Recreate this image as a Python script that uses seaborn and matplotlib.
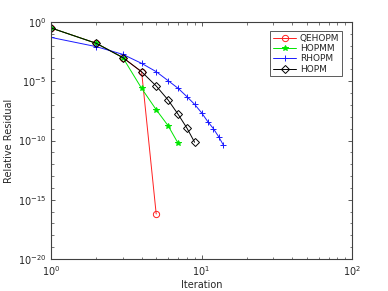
import numpy as np
import pandas as pd
import matplotlib
matplotlib.use("Agg")
from matplotlib import pyplot as plt
from matplotlib.ticker import FixedLocator, NullFormatter, LogFormatterSciNotation
import seaborn as sns

# log10 of relative residual
qehopm_it = [1, 2, 3, 4, 5]
qehopm_log = [-0.5, -1.8, -3.0, -4.2, -16.2]

hopmm_it = [1, 2, 3, 4, 5, 6, 7]
hopmm_log = [-0.5, -1.8, -3.0, -5.6, -7.4, -8.75, -10.25]

rhopm_it = [1, 2, 3, 4, 5, 6, 7, 8, 9, 10, 11, 12, 13, 14]
rhopm_log = [-1.3, -2.08, -2.73, -3.49, -4.19, -4.95, -5.6, -6.3, -6.95,
             -7.65, -8.4, -9.0, -9.68, -10.4]

hopm_it = [1, 2, 3, 4, 5, 6, 7, 8, 9]
hopm_log = [-0.5, -1.8, -3.0, -4.2, -5.4, -6.58, -7.8, -8.95, -10.15]

sns.set_style("ticks")
plt.rcParams['font.family'] = ['DejaVu Sans']
plt.rcParams['mathtext.fontset'] = 'dejavusans'

fig = plt.figure(figsize=(3.88, 2.91), dpi=100)
ax = fig.add_axes([51 / 388, 32 / 291, 301 / 388, 237 / 291])

series = [
    ("QEHOPM", qehopm_it, qehopm_log, "#ff2020", "o", "none", 4.5),
    ("HOPMM", hopmm_it, hopmm_log, "#00e600", "*", "#00e600", 3.8),
    ("RHOPM", rhopm_it, rhopm_log, "#1a1aff", "+", "#1a1aff", 4.5),
    ("HOPM", hopm_it, hopm_log, "#000000", "D", "none", 4),
]

for name, it, lg, col, mk, mfc, ms in series:
    df = pd.DataFrame({"Iteration": it, "Residual": 10.0 ** np.array(lg)})
    sns.lineplot(data=df, x="Iteration", y="Residual", ax=ax, color=col,
                 marker=mk, mfc=mfc, mec=col, mew=0.7, ms=ms, lw=0.7,
                 sort=False, label=name)

ax.set_xscale("log")
ax.set_yscale("log")
ax.set_xlim(1, 100)
ax.set_ylim(1e-20, 1)

ax.xaxis.set_major_locator(FixedLocator([1, 10, 100]))
ax.xaxis.set_minor_locator(FixedLocator([m * 10 ** d for d in range(2) for m in range(2, 10)]))
ax.yaxis.set_major_locator(FixedLocator([10.0 ** e for e in range(-20, 1, 5)]))
ax.yaxis.set_minor_locator(FixedLocator([10.0 ** e for e in range(-20, 1)]))
ax.xaxis.set_major_formatter(LogFormatterSciNotation())
ax.yaxis.set_major_formatter(LogFormatterSciNotation())
ax.xaxis.set_minor_formatter(NullFormatter())
ax.yaxis.set_minor_formatter(NullFormatter())

edge = "#404040"
for s in ax.spines.values():
    s.set_visible(True)
    s.set_color(edge)
    s.set_linewidth(0.8)
ax.tick_params(which="both", direction="in", top=True, right=True,
               colors=edge, labelcolor="#262626", labelsize=7)
ax.tick_params(which="major", length=3, width=0.6)
ax.tick_params(which="minor", length=1.8, width=0.5)

ax.set_xlabel("Iteration", fontsize=7, color="#262626", labelpad=2)
ax.set_ylabel("Relative Residual", fontsize=7, color="#262626", labelpad=3)

leg = ax.legend(loc="upper right", bbox_to_anchor=(0.967, 0.962), fontsize=6.5,
                frameon=True, fancybox=False, framealpha=1, edgecolor="#404040",
                handlelength=2.6, handletextpad=0.4, borderpad=0.3,
                labelspacing=0.15, borderaxespad=0)
leg.get_frame().set_linewidth(0.6)

fig.savefig("out.png", dpi=100)
